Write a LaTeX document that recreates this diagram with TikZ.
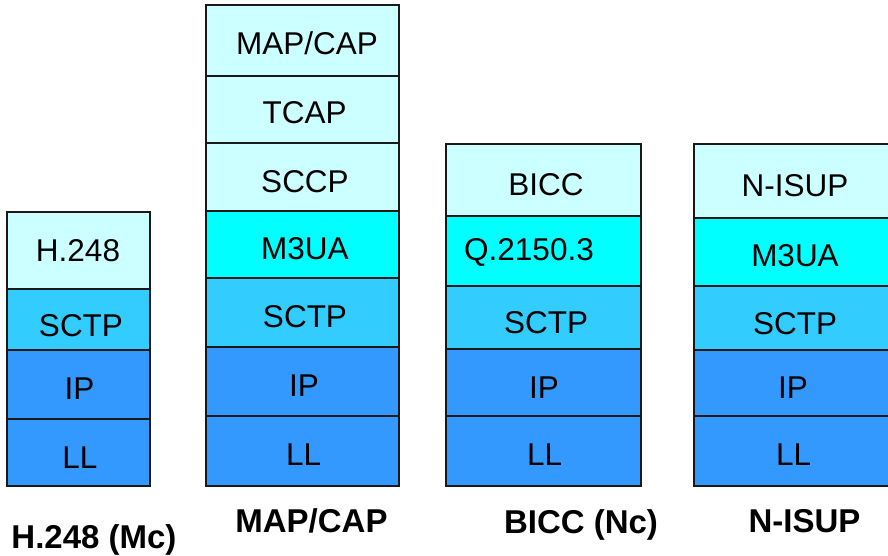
\documentclass[tikz,border=0pt]{standalone}
\usepackage{fontspec}
\setmainfont{Liberation Sans}
\definecolor{lcyan}{HTML}{CCFFFF}
\definecolor{cyanc}{HTML}{00FFFF}
\definecolor{sky}{HTML}{33CCFF}
\definecolor{blu}{HTML}{3399FF}
\begin{document}
\begin{tikzpicture}[x=1pt,y=-1pt,
  layer/.style={draw=black!90, line width=1.6pt, rectangle, inner sep=0pt, outer sep=0pt, anchor=north west},
  lbl/.style={inner sep=0pt, anchor=base, font=\fontsize{31.5}{36}\selectfont},
  captn/.style={inner sep=0pt, anchor=base, font=\fontsize{33}{38}\selectfont\bfseries}]
\useasboundingbox (0,0) rectangle (888,556);
% Stack 1
\node[layer, fill=lcyan, minimum width=143pt, minimum height=77pt] (a1) at (7,212) {};
\node[layer, fill=sky,   minimum width=143pt, minimum height=61pt] (a2) at (7,289) {};
\node[layer, fill=blu,   minimum width=143pt, minimum height=69pt] (a3) at (7,350) {};
\node[layer, fill=blu,   minimum width=143pt, minimum height=67pt] (a4) at (7,419) {};
\node[lbl] (a1t) at (78,261) {H.248};
\node[lbl] (a2t) at (81,336.7) {SCTP};
\node[lbl] (a3t) at (79.5,399) {IP};
\node[lbl] (a4t) at (80,468) {LL};
% Stack 2
\node[layer, fill=lcyan, minimum width=193pt, minimum height=71pt] (b1) at (206,5) {};
\node[layer, fill=lcyan, minimum width=193pt, minimum height=67pt] (b2) at (206,76) {};
\node[layer, fill=lcyan, minimum width=193pt, minimum height=68pt] (b3) at (206,143) {};
\node[layer, fill=cyanc, minimum width=193pt, minimum height=67pt] (b4) at (206,211) {};
\node[layer, fill=sky,   minimum width=193pt, minimum height=69pt] (b5) at (206,278) {};
\node[layer, fill=blu,   minimum width=193pt, minimum height=69pt] (b6) at (206,347) {};
\node[layer, fill=blu,   minimum width=193pt, minimum height=70pt] (b7) at (206,416) {};
\node[lbl] (b1t) at (307,55) {MAP/CAP};
\node[lbl] (b2t) at (304.7,123.3) {TCAP};
\node[lbl] (b3t) at (305,192.7) {SCCP};
\node[lbl] (b4t) at (305,259.5) {M3UA};
\node[lbl] (b5t) at (305,327.7) {SCTP};
\node[lbl] (b6t) at (304,396.7) {IP};
\node[lbl] (b7t) at (303.7,465) {LL};
% Stack 3
\node[layer, fill=lcyan, minimum width=195pt, minimum height=72pt] (c1) at (446,144) {};
\node[layer, fill=cyanc, minimum width=195pt, minimum height=70pt] (c2) at (446,216) {};
\node[layer, fill=sky,   minimum width=195pt, minimum height=63pt] (c3) at (446,286) {};
\node[layer, fill=blu,   minimum width=195pt, minimum height=67pt] (c4) at (446,349) {};
\node[layer, fill=blu,   minimum width=195pt, minimum height=70pt] (c5) at (446,416) {};
\node[lbl] (c1t) at (546,195) {BICC};
\node[lbl, anchor=base west] (c2t) at (464,260) {Q.2150.3};
\node[lbl] (c3t) at (546,333) {SCTP};
\node[lbl] (c4t) at (544,398) {IP};
\node[lbl] (c5t) at (544.7,465) {LL};
% Stack 4
\node[layer, fill=lcyan, minimum width=198pt, minimum height=74pt] (d1) at (694,144) {};
\node[layer, fill=cyanc, minimum width=198pt, minimum height=68pt] (d2) at (694,218) {};
\node[layer, fill=sky,   minimum width=198pt, minimum height=64pt] (d3) at (694,286) {};
\node[layer, fill=blu,   minimum width=198pt, minimum height=66pt] (d4) at (694,350) {};
\node[layer, fill=blu,   minimum width=198pt, minimum height=70pt] (d5) at (694,416) {};
\node[lbl] (d1t) at (795,196.7) {N-ISUP};
\node[lbl] (d2t) at (795,266.7) {M3UA};
\node[lbl] (d3t) at (795,334) {SCTP};
\node[lbl] (d4t) at (793,398) {IP};
\node[lbl] (d5t) at (793.7,465) {LL};
% Captions
\node[captn] (capa) at (94,548) {H.248 (Mc)};
\node[captn] (capb) at (311.5,532) {MAP/CAP};
\node[captn] (capc) at (581,533) {BICC (Nc)};
\node[captn] (capd) at (804.5,532) {N-ISUP};
\end{tikzpicture}
\end{document}
